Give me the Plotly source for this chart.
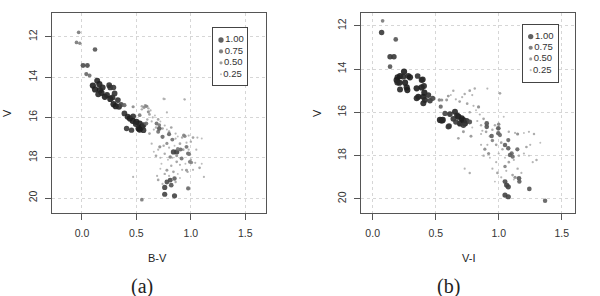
import plotly.graph_objects as go

# ---------------- data ----------------
# Panel (a): B-V vs V, cluster members (larger / darker = higher probability)
bv_m = [-0.03,-0.05,-0.02,0.12,0.01,0.05,0.04,0.07,0.10,0.14,0.16,0.12,0.165,0.19,0.18,0.15,0.21,0.23,0.26,0.28,
        0.25,0.26,0.29,0.30,0.33,0.29,0.31,0.34,0.36,0.39,0.42,0.44,0.47,0.465,0.50,0.53,0.55,0.52,0.495,0.41,
        0.455,0.565,0.565,0.53,0.59,0.39,0.47,0.55,0.60,0.76,0.78,0.75,0.945,0.59,0.57,0.61,0.53,0.685,0.71,0.70,
        0.71,0.80,0.945,0.84,0.87,0.905,0.975,0.915,0.99,0.85,0.81,0.78,0.82,0.76,0.76,0.85,0.975,0.55,0.83,0.935,
        0.88,0.96,1.005,0.985,0.78,0.715,0.81,0.87,0.78,0.96,0.74]
v_a_m = [11.78,12.28,12.32,12.63,13.42,13.42,13.85,13.92,14.42,14.18,14.35,14.61,14.65,14.51,14.78,14.85,14.98,14.89,15.08,15.01,
         14.40,14.51,14.51,14.81,15.14,15.34,15.44,15.47,15.36,15.80,15.97,16.05,15.94,16.17,16.22,16.30,16.47,16.55,16.33,16.55,
         16.63,16.38,16.63,16.60,16.30,15.39,15.47,15.45,15.45,15.09,15.75,15.06,15.11,15.44,15.50,15.72,15.89,16.30,16.38,16.71,
         16.55,16.83,16.93,17.71,17.71,17.59,17.79,18.04,18.20,19.03,19.11,19.20,19.36,19.47,19.81,19.89,19.52,20.08,17.10,16.88,
         17.56,17.46,18.24,17.82,17.29,17.46,17.96,17.90,18.62,18.62,16.96]
p_a_m = [0.5,0.5,0.45,0.7,0.75,0.75,0.6,0.55,1.0,0.95,1.0,1.0,1.0,0.95,1.0,0.95,1.0,0.95,1.0,0.95,
         0.9,0.9,0.85,0.9,0.9,1.0,1.0,0.95,0.8,0.9,0.95,1.0,0.9,1.0,1.0,1.0,1.0,1.0,0.95,0.85,
         0.85,0.9,0.9,1.0,0.6,0.6,0.4,0.25,0.25,0.2,0.2,0.2,0.2,0.45,0.4,0.4,0.5,0.55,0.5,0.55,
         0.7,0.6,0.45,0.8,0.8,0.6,0.6,0.55,0.5,0.65,0.75,0.75,0.7,0.8,0.8,0.8,0.6,0.5,0.55,0.45,
         0.5,0.55,0.45,0.5,0.4,0.4,0.45,0.35,0.35,0.35,0.6]
# Panel (a): field stars (low probability)
bv_f = [0.61,0.63,0.62,0.65,0.67,0.60,0.64,0.70,0.72,0.68,0.66,0.74,0.76,0.78,0.80,0.82,0.86,0.88,0.92,0.98,
        1.02,1.06,1.10,1.00,0.96,0.90,0.85,0.80,0.75,0.70,0.66,0.68,0.72,0.76,0.79,0.83,0.87,0.90,0.95,1.00,
        1.04,1.08,1.10,1.02,0.97,0.92,0.88,0.84,0.80,0.76,0.72,0.69,0.70,0.74,0.86,0.90,1.12,0.47,0.94,0.75,
        0.58,0.55,0.86,0.93,1.05,0.82,0.73,0.64,0.62,0.98]
v_a_f = [15.55,15.65,15.85,16.0,15.9,16.1,16.2,16.1,16.2,16.5,16.6,16.55,16.4,16.6,16.7,16.5,16.8,16.95,17.0,16.9,
         17.0,17.0,17.05,17.2,17.25,17.3,17.4,17.5,17.4,17.6,17.7,17.9,18.0,17.8,18.1,18.0,18.2,18.35,18.3,18.1,
         18.25,18.5,18.3,18.6,18.7,18.6,18.8,18.7,18.9,18.8,18.55,18.9,19.1,19.3,19.2,19.0,18.95,18.95,15.1,15.1,
         15.4,15.6,17.05,17.6,17.6,18.4,18.3,17.3,16.8,17.6]
p_a_f = [0.25,0.2,0.3,0.2,0.15, 0.25,0.2,0.3,0.15,0.25, 0.2,0.3,0.2,0.15,0.25, 0.3,0.2,0.15,0.25,0.2,
         0.3,0.2,0.15,0.25,0.2, 0.3,0.15,0.2,0.25,0.2, 0.15,0.3,0.2,0.25,0.15, 0.2,0.3,0.2,0.15,0.25,
         0.2,0.3,0.15,0.2,0.25, 0.2,0.15,0.3,0.2,0.25, 0.15,0.2,0.3,0.2,0.25, 0.15,0.2,0.2,0.2,0.15,
         0.3,0.25,0.2,0.3,0.2, 0.25,0.15,0.2,0.3,0.2]

# Panel (b): V-I vs V, cluster members
vi_m = [0.079,0.071,0.183,0.138,0.169,0.138,0.198,0.249,0.217,0.190,0.212,0.243,0.257,0.283,0.296,0.270,0.275,0.217,0.196,0.357,
        0.389,0.397,0.349,0.389,0.407,0.410,0.362,0.349,0.402,0.442,0.415,0.455,0.402,0.476,0.529,0.548,0.587,0.540,0.534,0.556,
        0.606,0.574,0.548,0.613,0.653,0.680,0.706,0.719,0.693,0.733,0.746,0.600,0.64,0.66,0.67,0.72,0.77,0.905,0.905,0.944,
        0.997,0.997,1.01,1.05,1.076,1.076,1.103,1.09,1.111,1.148,1.05,1.063,1.076,1.05,1.076,1.161,1.164,1.243,1.368,0.84,
        0.72,0.78,0.68,0.89,1.0,1.15,1.05,1.13,0.6,0.95,0.92]
v_b_m = [11.77,12.31,12.63,13.43,13.43,13.89,14.38,14.12,14.32,14.51,14.63,14.35,14.63,14.32,14.38,14.85,14.97,14.94,14.62,14.32,
         14.51,14.48,14.89,14.85,14.78,15.09,15.28,15.35,15.28,15.20,15.43,15.46,15.58,15.35,15.43,15.43,15.43,15.74,16.35,16.35,
         16.63,16.05,16.39,16.08,15.97,16.20,16.28,16.36,16.51,16.51,16.39,16.67,16.30,16.45,16.15,16.60,16.45,16.51,16.67,17.09,
         16.74,16.97,17.05,17.51,17.28,17.66,17.89,17.97,18.05,17.71,19.20,19.36,19.44,19.82,19.90,19.05,19.20,19.54,20.08,15.75,
         16.9,17.1,17.2,17.7,16.55,17.0,18.5,19.0,15.25,17.3,17.9]
p_b_m = [0.5,0.85,0.7,0.85,0.85,0.7,1.0,1.0,1.0,1.0,1.0,0.95,1.0,0.95,1.0,1.0,1.0,0.95,0.95,0.9,
         0.95,0.95,1.0,1.0,0.95,1.0,1.0,0.95,1.0,0.9,0.95,0.85,0.95,0.8,0.45,0.4,0.35,0.6,1.0,1.0,
         0.9,0.8,0.95,0.9,0.95,1.0,1.0,1.0,1.0,0.95,0.9,0.85,0.9,0.85,0.95,0.85,0.75,0.7,0.7,0.65,
         0.7,0.65,0.6,0.65,0.6,0.65,0.6,0.65,0.6,0.6,0.75,0.8,0.8,0.8,0.8,0.7,0.65,0.7,0.65,0.4,
         0.35,0.35,0.3,0.4,0.45,0.4,0.45,0.4,0.35,0.45,0.4]
# Panel (b): field stars
vi_f = [0.71,0.73,0.77,0.79,0.81,0.75,0.80,0.82,0.77,0.85,0.88,0.83,0.79,0.86,0.90,0.86,0.93,0.95,0.91,0.98,
        1.03,1.00,1.05,1.08,1.12,1.16,1.20,1.24,1.27,1.30,1.22,1.25,1.33,1.28,1.24,1.20,1.13,1.08,1.02,0.98,
        0.93,0.88,0.95,0.99,1.02,0.97,1.15,1.18,1.11,1.06,1.12,0.73,0.77,1.01,0.91,0.95,0.62,0.66,0.64,0.69,
        0.86,0.97,1.04,0.87]
v_b_f = [15.3,15.15,15.0,15.2,14.9,15.6,15.7,15.9,16.0,16.1,16.3,16.4,16.7,16.6,16.9,17.0,17.1,17.3,17.5,17.5,
         17.7,17.9,18.1,18.3,18.2,18.0,17.9,18.0,18.3,18.2,17.6,17.5,17.4,17.0,16.9,16.95,16.95,16.9,17.4,18.3,
         18.1,18.0,18.6,18.8,19.0,19.2,18.6,18.8,18.9,18.7,19.1,18.6,18.8,15.12,14.9,16.8,15.2,15.4,15.0,15.5,
         17.5,16.6,16.2,16.85]
p_b_f = [0.2,0.25,0.3,0.2,0.25, 0.3,0.2,0.15,0.25,0.2, 0.3,0.2,0.15,0.25,0.3, 0.2,0.25,0.15,0.2,0.3,
         0.25,0.2,0.15,0.3,0.2, 0.25,0.2,0.15,0.2,0.25, 0.3,0.2,0.15,0.25,0.2, 0.15,0.2,0.25,0.3,0.2,
         0.15,0.25,0.2,0.3,0.2, 0.15,0.25,0.2,0.3,0.2, 0.15,0.2,0.25,0.3,0.2, 0.25,0.15,0.2,0.25,0.3,
         0.2,0.25,0.15,0.2]

legend_values = [1.00, 0.75, 0.50, 0.25]
legend_labels = ["1.00", "0.75", "0.50", "0.25"]
x_ticks = [0.0, 0.5, 1.0, 1.5]
x_tick_labels = ["0.0", "0.5", "1.0", "1.5"]
y_ticks = [12, 14, 16, 18, 20]

for a, b in [(bv_m, v_a_m), (bv_m, p_a_m), (bv_f, v_a_f), (bv_f, p_a_f),
             (vi_m, v_b_m), (vi_m, p_b_m), (vi_f, v_b_f), (vi_f, p_b_f)]:
    assert len(a) == len(b), (len(a), len(b))

# ---------------- styling helpers ----------------
def gray(p):
    v = int(round(30 + (1 - p) * 180))
    return f"rgb({v},{v},{v})"

def msize(p):
    return 1.2 + 5.0 * p

W, H = 600, 296
def px_x(px):
    return px / W
def px_y(py):
    return 1 - py / H

FONT = "Liberation Sans, Arial, Helvetica, sans-serif"
SERIF = "Liberation Serif, Times New Roman, serif"

fig = go.Figure()

def add_points(x, y, p, xa, ya):
    fig.add_trace(go.Scatter(
        x=x, y=y, mode="markers", xaxis=xa, yaxis=ya, showlegend=False,
        hoverinfo="skip",
        marker=dict(size=[msize(v) for v in p], color=[gray(v) for v in p],
                    line=dict(width=0), opacity=0.9)))

add_points(bv_f, v_a_f, p_a_f, "x", "y")
add_points(bv_m, v_a_m, p_a_m, "x", "y")
add_points(vi_f, v_b_f, p_b_f, "x2", "y2")
add_points(vi_m, v_b_m, p_b_m, "x2", "y2")

# legend boxes (drawn on small overlay axes)
for xa, ya in [("x3", "y3"), ("x4", "y4")]:
    fig.add_trace(go.Scatter(
        x=[0] * len(legend_values), y=list(range(len(legend_values))),
        mode="markers+text", xaxis=xa, yaxis=ya, showlegend=False, hoverinfo="skip",
        text=legend_labels, textposition="middle right",
        textfont=dict(family=FONT, size=9.5, color="#333333"),
        marker=dict(size=[msize(v) * 0.85 for v in legend_values],
                    color=[gray(v) for v in legend_values], line=dict(width=0))))

axis_common = dict(
    showline=True, mirror=True, linecolor="#555555", linewidth=1,
    ticks="outside", ticklen=6, tickcolor="#555555", tickwidth=1,
    tickfont=dict(family=FONT, size=10.5, color="#333333"),
    ticklabelstandoff=4,
    showgrid=True, gridcolor="#d6d6d6", griddash="dot", gridwidth=1,
    zeroline=False,
)
ydom = [px_y(213), px_y(13)]

fig.update_layout(
    width=W, height=H, margin=dict(l=0, r=0, t=0, b=0),
    paper_bgcolor="white", plot_bgcolor="white", showlegend=False,
    xaxis=dict(domain=[px_x(52), px_x(266)], range=[-0.275, 1.69], anchor="y",
               tickvals=x_ticks, ticktext=x_tick_labels, **axis_common),
    yaxis=dict(domain=ydom, range=[20.74, 10.82], anchor="x",
               tickvals=y_ticks, tickangle=-90, **axis_common),
    xaxis2=dict(domain=[px_x(360.7), px_x(574.7)], range=[-0.095, 1.603], anchor="y2",
                tickvals=x_ticks, ticktext=x_tick_labels, **axis_common),
    yaxis2=dict(domain=ydom, range=[20.65, 11.41], anchor="x2",
                tickvals=y_ticks, tickangle=-90, **axis_common),
    xaxis3=dict(domain=[px_x(213), px_x(247)], range=[-0.8, 2.6], anchor="y3",
                showline=True, mirror=True, linecolor="#444444", linewidth=1,
                showgrid=False, zeroline=False, showticklabels=False, ticks=""),
    yaxis3=dict(domain=[px_y(85), px_y(28)], range=[3.94, -1.05], anchor="x3",
                showline=True, mirror=True, linecolor="#444444", linewidth=1,
                showgrid=False, zeroline=False, showticklabels=False, ticks=""),
    xaxis4=dict(domain=[px_x(523), px_x(558)], range=[-0.77, 2.73], anchor="y4",
                showline=True, mirror=True, linecolor="#444444", linewidth=1,
                showgrid=False, zeroline=False, showticklabels=False, ticks=""),
    yaxis4=dict(domain=[px_y(82), px_y(25)], range=[4.06, -1.03], anchor="x4",
                showline=True, mirror=True, linecolor="#444444", linewidth=1,
                showgrid=False, zeroline=False, showticklabels=False, ticks=""),
)

annots = [
    dict(text="V", x=px_x(7), y=px_y(113), textangle=-90, size=11, fam=FONT),
    dict(text="B-V", x=px_x(158), y=px_y(258), textangle=0, size=11, fam=FONT),
    dict(text="(a)", x=px_x(142), y=px_y(286), textangle=0, size=20, fam=SERIF),
    dict(text="V", x=px_x(317), y=px_y(113), textangle=-90, size=11, fam=FONT),
    dict(text="V-I", x=px_x(468), y=px_y(258), textangle=0, size=11, fam=FONT),
    dict(text="(b)", x=px_x(448), y=px_y(286), textangle=0, size=20, fam=SERIF),
]
for a in annots:
    fig.add_annotation(text=a["text"], x=a["x"], y=a["y"], xref="paper", yref="paper",
                       xanchor="center", yanchor="middle", showarrow=False,
                       textangle=a["textangle"],
                       font=dict(family=a["fam"], size=a["size"], color="#222222"))

fig.write_html("out.html", config={"displayModeBar": False},
               post_script="document.body.style.margin='0';document.body.style.overflow='hidden';")
